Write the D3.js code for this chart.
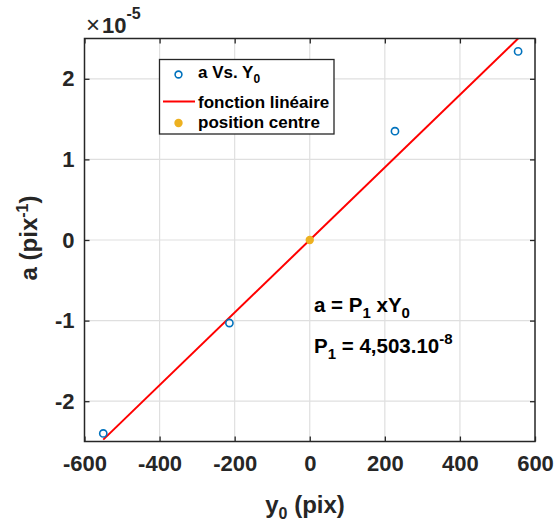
<!DOCTYPE html>
<html><head><meta charset="utf-8">
<script src="https://cdn.jsdelivr.net/npm/d3@7"></script>
<style>body{margin:0;background:#fff;} svg{display:block;font-family:Arial,"Liberation Sans",Helvetica,sans-serif;}</style>
</head><body>
<script>
// Data (y values in units of 1e-5 pix^-1)
const y0Values = [-550, -214, 227, 555];
const aValues = [-2.40, -1.03, 1.35, 2.34];
const slope = 4.503e-3;           // P1 = 4.503e-8, expressed in 1e-5 units
const fitX = [-550, 555];
const centre = [{x: 0, y: 0}];
const xTicks = [-600, -400, -200, 0, 200, 400, 600];
const yTicks = [-2, -1, 0, 1, 2];

const W = 554, H = 530;
const svg = d3.select("body").append("svg").attr("width", W).attr("height", H);
const L = 84.5, R = 535, T = 38.5, B = 441.5;
const x = d3.scaleLinear().domain([-600, 600]).range([L, R]);
const y = d3.scaleLinear().domain([-2.5, 2.5]).range([B, T]);
const ink = "#262626";

// grid
const g = svg.append("g");
g.selectAll(".gx").data(xTicks.slice(1, -1)).join("line")
  .attr("x1", d => x(d)).attr("x2", d => x(d)).attr("y1", T).attr("y2", B)
  .attr("stroke", "#dfdfdf").attr("stroke-width", 1.2);
g.selectAll(".gy").data(yTicks).join("line")
  .attr("y1", d => y(d)).attr("y2", d => y(d)).attr("x1", L).attr("x2", R)
  .attr("stroke", "#dfdfdf").attr("stroke-width", 1.2);

// axes
const xAxB = d3.axisBottom(x).tickValues(xTicks).tickSizeInner(-5).tickSizeOuter(0).tickPadding(14);
const xAxT = d3.axisTop(x).tickValues(xTicks).tickSizeInner(-5).tickSizeOuter(0).tickFormat("");
const yAxL = d3.axisLeft(y).tickValues(yTicks).tickSizeInner(-5).tickSizeOuter(0).tickPadding(10).tickFormat(d3.format("d"));
const yAxR = d3.axisRight(y).tickValues(yTicks).tickSizeInner(-5).tickSizeOuter(0).tickFormat("");
function style(sel) {
  sel.selectAll("path").remove();
  sel.selectAll("line").attr("stroke", ink).attr("stroke-width", 1.3);
  sel.selectAll("text").attr("fill", ink).attr("font-weight", "bold").attr("font-size", 22)
     .attr("font-family", "Arial, 'Liberation Sans', sans-serif");
}
svg.append("g").attr("transform", `translate(0,${B})`).call(xAxB).call(style);
svg.append("g").attr("transform", `translate(0,${T})`).call(xAxT).call(style);
svg.append("g").attr("transform", `translate(${L},0)`).call(yAxL).call(style);
svg.append("g").attr("transform", `translate(${R},0)`).call(yAxR).call(style);
svg.selectAll("text").filter(function(){return this.textContent.startsWith("\u2212");})
  .text(function(){return "-" + this.textContent.slice(1);});

// fit line
svg.append("line").attr("x1", x(fitX[0])).attr("y1", y(slope * fitX[0]))
  .attr("x2", x(fitX[1])).attr("y2", y(slope * fitX[1]))
  .attr("stroke", "#ff0000").attr("stroke-width", 2);

// data markers
svg.selectAll(".pt").data(y0Values.map((v, i) => ({x: v, y: aValues[i]}))).join("circle")
  .attr("cx", d => x(d.x)).attr("cy", d => y(d.y)).attr("r", 3.6)
  .attr("fill", "none").attr("stroke", "#0072BD").attr("stroke-width", 1.6);

// centre
svg.selectAll(".c").data(centre).join("circle")
  .attr("cx", d => x(d.x)).attr("cy", d => y(d.y)).attr("r", 4.2).attr("fill", "#EDB120");

// box
svg.append("rect").attr("x", L).attr("y", T).attr("width", R - L).attr("height", B - T)
  .attr("fill", "none").attr("stroke", ink).attr("stroke-width", 1.5);

// exponent
const ex = svg.append("text").attr("x", 86).attr("y", 33).attr("fill", ink);
ex.append("tspan").text("\u00d7").style("font-weight", "normal").style("font-size", "24px");
ex.append("tspan").text("10").style("font-weight", "bold").style("font-size", "22px").attr("dx", 2);
ex.append("tspan").text("-5").style("font-size", "16px").attr("dy", -14).style("font-weight", "bold");

// axis labels
const xl = svg.append("text").attr("x", 305).attr("y", 513).attr("text-anchor", "middle")
  .attr("font-size", 24).attr("font-weight", "bold").attr("fill", ink);
xl.append("tspan").text("y");
xl.append("tspan").text("0").attr("font-size", 16).attr("dy", 6);
xl.append("tspan").text(" (pix)").attr("dy", -6);

const yl = svg.append("text").attr("transform", "translate(37,238) rotate(-90)").attr("text-anchor", "middle")
  .attr("font-size", 24).attr("font-weight", "bold").attr("fill", ink);
yl.append("tspan").text("a (pix");
yl.append("tspan").text("-1").attr("font-size", 16).attr("dy", -9);
yl.append("tspan").text(")").attr("dy", 9);

// legend
const lg = svg.append("g");
lg.append("rect").attr("x", 159.5).attr("y", 59.5).attr("width", 174.5).attr("height", 74.5)
  .attr("fill", "#fff").attr("stroke", ink).attr("stroke-width", 1.3);
lg.append("circle").attr("cx", 178.5).attr("cy", 74.5).attr("r", 3.4)
  .attr("fill", "none").attr("stroke", "#0072BD").attr("stroke-width", 1.6);
lg.append("line").attr("x1", 163).attr("x2", 195).attr("y1", 101.5).attr("y2", 101.5)
  .attr("stroke", "#ff0000").attr("stroke-width", 2);
lg.append("circle").attr("cx", 178.5).attr("cy", 123).attr("r", 4.2).attr("fill", "#EDB120");
const lt = (yy) => lg.append("text").attr("x", 198).attr("y", yy).attr("font-size", 17)
  .attr("font-weight", "bold").attr("fill", "#000");
const t1 = lt(78);
t1.append("tspan").text("a Vs. Y");
t1.append("tspan").text("0").attr("font-size", 12).attr("dy", 5);
lt(108).text("fonction linéaire");
lt(128).text("position centre");

// annotation
const an1 = svg.append("text").attr("x", 314).attr("y", 312).attr("font-size", 20.5)
  .attr("font-weight", "bold").attr("fill", "#000");
an1.append("tspan").text("a = P");
an1.append("tspan").text("1").attr("font-size", 15).attr("dy", 6);
an1.append("tspan").text(" xY").attr("dy", -6);
an1.append("tspan").text("0").attr("font-size", 15).attr("dy", 6);
const an2 = svg.append("text").attr("x", 314).attr("y", 353).attr("font-size", 20.5)
  .attr("font-weight", "bold").attr("fill", "#000");
an2.append("tspan").text("P");
an2.append("tspan").text("1").attr("font-size", 15).attr("dy", 6);
an2.append("tspan").text(" = 4,503.10").attr("dy", -6);
an2.append("tspan").text("-8").attr("font-size", 15).attr("dy", -9);
</script>
</body></html>
